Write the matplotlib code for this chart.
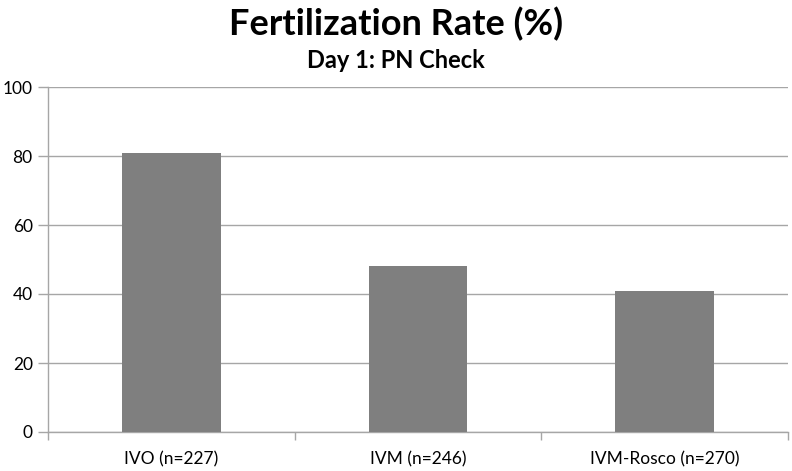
import matplotlib
matplotlib.use("Agg")
import matplotlib.pyplot as plt
import numpy as np

categories = ["IVO (n=227)", "IVM (n=246)", "IVM-Rosco (n=270)"]
values = [81, 48, 41]
yticks = [0, 20, 40, 60, 80, 100]

plt.rcParams['font.family'] = ['Lato', 'DejaVu Sans']

fig = plt.figure(figsize=(7.92, 4.71), dpi=100)
ax = fig.add_axes([48/792, 39/471, 740/792, 345/471])

x = np.arange(len(categories))
ax.bar(x, values, width=0.4, color="#7f7f7f", zorder=3)

ax.set_xlim(-0.5, len(categories) - 0.5)
ax.set_ylim(0, 100)
ax.set_yticks(yticks)
ax.set_yticklabels([str(v) for v in yticks], fontsize=12.5)
ax.yaxis.grid(True, color="#a6a6a6", linewidth=1, zorder=0)
ax.set_xticks(x)
ax.set_xticklabels(categories, fontsize=12.5)
ax.tick_params(axis='x', which='major', length=0, pad=14)
ax.set_xticks(np.arange(len(categories) + 1) - 0.5, minor=True)
ax.tick_params(axis='x', which='minor', length=6, color="#a6a6a6", width=1)
ax.tick_params(axis='y', length=7, color="#a6a6a6", width=1, pad=4)

for s in ['top', 'right']:
    ax.spines[s].set_visible(False)
for s in ['left', 'bottom']:
    ax.spines[s].set_color("#a6a6a6")
    ax.spines[s].set_linewidth(1)

fig.text(0.5, 1 - 24/471, "Fertilization Rate (%)", ha='center', va='center',
         fontsize=26, fontweight='bold')
fig.text(0.5, 1 - 61/471, "Day 1: PN Check", ha='center', va='center',
         fontsize=17, fontweight='bold')

fig.savefig("out.png", dpi=100)
